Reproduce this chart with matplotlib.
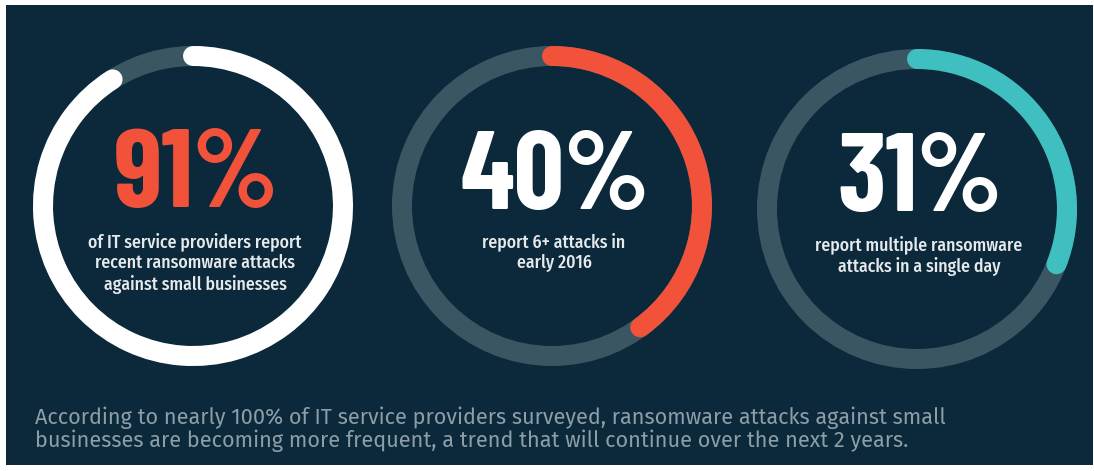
import matplotlib
matplotlib.use("Agg")
import matplotlib.pyplot as plt
from matplotlib.patches import Arc, Circle, Rectangle

# chart values
percents = [91, 40, 31]
labels = ["91%", "40%", "31%"]
captions = [
    "of IT service providers report\nrecent ransomware attacks\nagainst small businesses",
    "report 6+ attacks in\nearly 2016",
    "report multiple ransomware\nattacks in a single day",
]
footnote = ("According to nearly 100% of IT service providers surveyed, ransomware attacks against small\n"
            "businesses are becoming more frequent, a trend that will continue over the next 2 years.")

arc_colors = ["#ffffff", "#f2523a", "#3fbfbf"]
number_colors = ["#f2523a", "#ffffff", "#ffffff"]
centers = [(193, 206), (552, 206), (917, 209)]
number_y = [178, 180, 182]
caption_y = [263, 252, 256]

W, H = 1094, 471
bg = "#0b293a"
track = "#3b5663"
big_font = ["Barlow Condensed", "Fira Sans Extra Condensed", "DejaVu Sans"]
caption_font = ["Fira Sans Condensed", "Barlow Semi Condensed", "DejaVu Sans"]
foot_font = ["Fira Sans", "Barlow", "DejaVu Sans"]

fig = plt.figure(figsize=(W / 100, H / 100), dpi=100, facecolor="white")
ax = fig.add_axes([0, 0, 1, 1])
ax.set_xlim(0, W)
ax.set_ylim(0, H)
ax.set_aspect("equal")
ax.axis("off")

# 深色背景面板
ax.add_patch(Rectangle((6, H - 465), 1087, 460, facecolor=bg, edgecolor="none"))

r = 150
lw = 20 * 72 / 100  # 环宽约 20 像素
for (cx, cy), p, col, num, ncol, ny, cap, capy in zip(centers, percents, arc_colors, labels,
                                                      number_colors, number_y, captions, caption_y):
    y = H - cy
    # 灰色底环 + 彩色进度弧
    ax.add_patch(Circle((cx, y), r, fill=False, edgecolor=track, linewidth=lw))
    arc = Arc((cx, y), 2 * r, 2 * r, theta1=90 - p * 3.6, theta2=90,
              edgecolor=col, linewidth=lw)
    arc.set_capstyle("round")
    ax.add_patch(arc)
    ax.text(cx + 3, H - ny, num, color=ncol, fontsize=80, fontweight="bold",
            family=big_font, ha="center", va="center")
    ax.text(cx + 2, H - capy, cap, color="#e6eaec", fontsize=12.8, fontweight="medium",
            family=caption_font, ha="center", va="center", linespacing=1.2)

ax.text(35, H - 429, footnote, color="#8d9ea8", fontsize=15.6, family=foot_font,
        ha="left", va="center", linespacing=1.0)

fig.savefig("out.png", dpi=100, facecolor="white")
